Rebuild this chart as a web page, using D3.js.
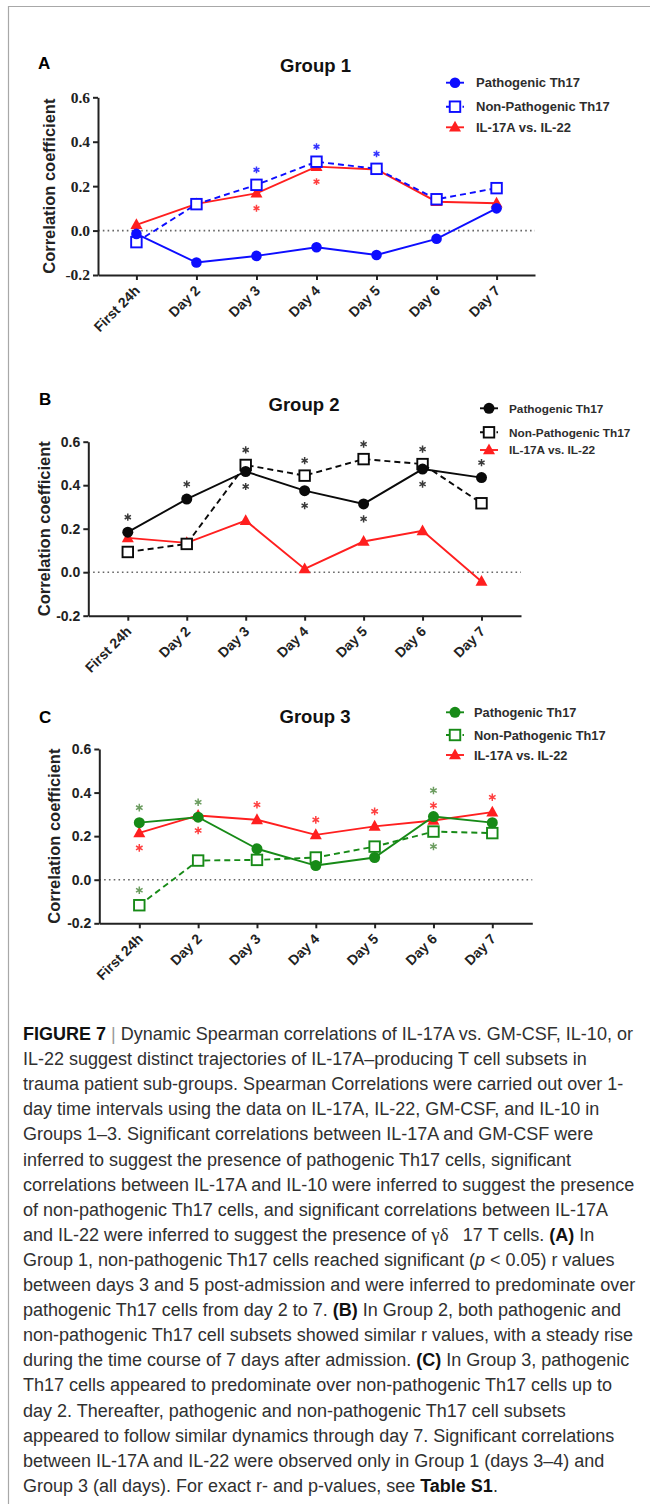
<!DOCTYPE html>
<html>
<head>
<meta charset="utf-8">
<script src="https://cdn.jsdelivr.net/npm/d3@7"></script>
<style>
  body { margin: 0; background: #fff; }
  svg { display: block; }
</style>
</head>
<body>
<svg id="fig" width="650" height="1504"></svg>
<script>
// ---- data ----------------------------------------------------------------
const days = ["First 24h", "Day 2", "Day 3", "Day 4", "Day 5", "Day 6", "Day 7"];
const yTicks = [-0.2, 0.0, 0.2, 0.4, 0.6];
const seriesLabels = ["Pathogenic Th17", "Non-Pathogenic Th17", "IL-17A vs. IL-22"];

// Group 1 Spearman r by day
const group1Pathogenic    = [-0.015, -0.144, -0.114, -0.075, -0.110, -0.037, 0.100];
const group1NonPathogenic = [-0.052,  0.119,  0.206,  0.310,  0.278,  0.141, 0.191];
const group1IL22          = [ 0.026,  0.120,  0.168,  0.288,  0.275,  0.130, 0.123];

// Group 2 Spearman r by day
const group2Pathogenic    = [0.184, 0.336, 0.463, 0.375, 0.314, 0.474, 0.435];
const group2NonPathogenic = [0.093, 0.130, 0.493, 0.444, 0.520, 0.497, 0.317];
const group2IL22          = [0.158, 0.135, 0.237, 0.015, 0.141, 0.190, -0.043];

// Group 3 Spearman r by day
const group3Pathogenic    = [ 0.262, 0.287, 0.142, 0.065, 0.102, 0.290, 0.262];
const group3NonPathogenic = [-0.117, 0.088, 0.091, 0.102, 0.152, 0.221, 0.214];
const group3IL22          = [ 0.215, 0.295, 0.275, 0.206, 0.245, 0.272, 0.310];

// significance marks (p < 0.05): series index 0 = pathogenic, 1 = non-pathogenic, 2 = IL-22
const group1Stars = [
  {day: "Day 3", series: 1, side: "above", level: 0},
  {day: "Day 3", series: 2, side: "below", level: 0},
  {day: "Day 4", series: 1, side: "above", level: 0},
  {day: "Day 4", series: 2, side: "below", level: 0},
  {day: "Day 5", series: 1, side: "above", level: 0}
];
const group2Stars = [
  {day: "First 24h", series: 0, side: "above", level: 0},
  {day: "Day 2", series: 0, side: "above", level: 0},
  {day: "Day 3", series: 1, side: "above", level: 0},
  {day: "Day 3", series: 0, side: "below", level: 0},
  {day: "Day 4", series: 1, side: "above", level: 0},
  {day: "Day 4", series: 0, side: "below", level: 0},
  {day: "Day 5", series: 1, side: "above", level: 0},
  {day: "Day 5", series: 0, side: "below", level: 0},
  {day: "Day 6", series: 1, side: "above", level: 0},
  {day: "Day 6", series: 0, side: "below", level: 0},
  {day: "Day 7", series: 0, side: "above", level: 0}
];
const group3Stars = [
  {day: "First 24h", series: 0, side: "above", level: 0},
  {day: "First 24h", series: 2, side: "below", level: 0},
  {day: "First 24h", series: 1, side: "above", level: 0},
  {day: "Day 2", series: 0, side: "above", level: 0},
  {day: "Day 2", series: 2, side: "below", level: 0},
  {day: "Day 3", series: 2, side: "above", level: 0},
  {day: "Day 4", series: 2, side: "above", level: 0},
  {day: "Day 5", series: 2, side: "above", level: 0},
  {day: "Day 6", series: 0, side: "above", level: 1},
  {day: "Day 6", series: 2, side: "above", level: 0},
  {day: "Day 6", series: 1, side: "below", level: 0},
  {day: "Day 7", series: 2, side: "above", level: 0}
];

// figure caption, one entry per printed line; segments: [text, style]
const captionLines = [
  [["FIGURE 7", "b"], [" | ", "bar"], ["Dynamic Spearman correlations of IL-17A vs. GM-CSF, IL-10, or", ""]],
  [["IL-22 suggest distinct trajectories of IL-17A\u2013producing T cell subsets in", ""]],
  [["trauma patient sub-groups. Spearman Correlations were carried out over 1-", ""]],
  [["day time intervals using the data on IL-17A, IL-22, GM-CSF, and IL-10 in", ""]],
  [["Groups 1\u20133. Significant correlations between IL-17A and GM-CSF were", ""]],
  [["inferred to suggest the presence of pathogenic Th17 cells, significant", ""]],
  [["correlations between IL-17A and IL-10 were inferred to suggest the presence", ""]],
  [["of non-pathogenic Th17 cells, and significant correlations between IL-17A", ""]],
  [["and IL-22 were inferred to suggest the presence of ", ""], ["\u03b3\u03b4", "greek"], ["\u2002 17 T cells. ", ""], ["(A)", "b"], [" In", ""]],
  [["Group 1, non-pathogenic Th17 cells reached significant (", ""], ["p", "i"], [" < 0.05) r values", ""]],
  [["between days 3 and 5 post-admission and were inferred to predominate over", ""]],
  [["pathogenic Th17 cells from day 2 to 7. ", ""], ["(B)", "b"], [" In Group 2, both pathogenic and", ""]],
  [["non-pathogenic Th17 cell subsets showed similar r values, with a steady rise", ""]],
  [["during the time course of 7 days after admission. ", ""], ["(C)", "b"], [" In Group 3, pathogenic", ""]],
  [["Th17 cells appeared to predominate over non-pathogenic Th17 cells up to", ""]],
  [["day 2. Thereafter, pathogenic and non-pathogenic Th17 cell subsets", ""]],
  [["appeared to follow similar dynamics through day 7. Significant correlations", ""]],
  [["between IL-17A and IL-22 were observed only in Group 1 (days 3\u20134) and", ""]],
  [["Group 3 (all days). For exact r- and p-values, see ", ""], ["Table S1", "b"], [".", ""]]
];

// ---- drawing -------------------------------------------------------------
const svg = d3.select("#fig");
const SANS = "'Liberation Sans', Arial, Helvetica, sans-serif";
const SERIF = "'Liberation Serif', 'Times New Roman', serif";

// page frame
svg.append("path")
  .attr("d", "M8.5,1504V6.5H650")
  .attr("fill", "none")
  .attr("stroke", "#a8a8a8")
  .attr("stroke-width", 1.2);

function starPath(r) {
  const a = r * 0.866, b = r * 0.5;
  return `M0,${-r}L0,${r}M${-a},${-b}L${a},${b}M${-a},${b}L${a},${-b}`;
}

function drawMarker(sel, shape, color, s) {
  if (shape === "circle") {
    sel.append("circle").attr("r", s.r).attr("fill", color);
  } else if (shape === "square") {
    sel.append("rect")
      .attr("x", -s.sq / 2).attr("y", -s.sq / 2)
      .attr("width", s.sq).attr("height", s.sq)
      .attr("fill", "#fff").attr("stroke", color).attr("stroke-width", 1.9);
  } else {
    const w = s.tri / 2, h = s.tri * 0.9;
    sel.append("path")
      .attr("d", `M0,${-h * 0.6}L${w},${h * 0.4}L${-w},${h * 0.4}Z`)
      .attr("fill", color);
  }
}

function drawPanel(p) {
  const g = svg.append("g");
  const x = d3.scalePoint().domain(days).range([p.x0, p.x1]).padding(p.pad);
  const y = d3.scaleLinear()
    .domain([yTicks[0], yTicks[yTicks.length - 1]])
    .range([p.yBot, p.yTop]);

  // panel letter and title
  g.append("text").attr("x", p.letterX).attr("y", p.letterY)
    .attr("font-family", SANS).attr("font-weight", "bold").attr("font-size", 17)
    .attr("fill", "#000").text(p.letter);
  g.append("text").attr("x", p.titleX).attr("y", p.titleY)
    .attr("text-anchor", "middle")
    .attr("font-family", SANS).attr("font-weight", "bold").attr("font-size", 18.5)
    .attr("fill", "#111").text(p.title);

  // zero reference line
  g.append("line")
    .attr("x1", p.x0).attr("x2", p.x1)
    .attr("y1", y(0)).attr("y2", y(0))
    .attr("stroke", "#666").attr("stroke-width", 1.6)
    .attr("stroke-dasharray", "1.6,3.2");

  // y axis
  const yAxis = g.append("g")
    .attr("transform", `translate(${p.x0},0)`)
    .call(d3.axisLeft(y).tickValues(yTicks).tickSize(5).tickSizeOuter(0).tickPadding(3)
      .tickFormat(d => d.toFixed(1)));
  yAxis.select(".domain").attr("stroke", "#222").attr("stroke-width", 2);
  yAxis.selectAll(".tick line").attr("stroke", "#222").attr("stroke-width", 2);
  yAxis.selectAll(".tick text")
    .attr("font-family", p.tickSerif ? SERIF : SANS)
    .attr("font-weight", "bold")
    .attr("font-size", p.tickSerif ? 15.5 : 14)
    .attr("fill", "#222");

  // x axis
  const xAxis = g.append("g")
    .attr("transform", `translate(0,${p.yBot})`)
    .call(d3.axisBottom(x).tickSize(5).tickSizeOuter(0));
  xAxis.select(".domain").attr("stroke", "#222").attr("stroke-width", 2);
  xAxis.selectAll(".tick line").attr("stroke", "#222").attr("stroke-width", 2);
  xAxis.selectAll(".tick text")
    .attr("font-family", SANS).attr("font-weight", "bold").attr("font-size", 14)
    .attr("fill", "#222")
    .attr("text-anchor", "end")
    .attr("y", 0).attr("dy", 0)
    .attr("transform", "translate(4,16.5) rotate(-45)");

  // y axis title
  g.append("text")
    .attr("transform", `translate(${p.yTitleX},${(p.yTop + p.yBot) / 2}) rotate(-90)`)
    .attr("text-anchor", "middle")
    .attr("font-family", SANS).attr("font-weight", "bold").attr("font-size", 16.5)
    .attr("fill", "#222").text("Correlation coefficient");

  // series lines and markers (IL-22 first, pathogenic on top)
  const shapes = ["circle", "square", "triangle"];
  const dashed = [false, true, false];
  const line = d3.line().x((d, i) => x(days[i])).y(d => y(d));
  [2, 1, 0].forEach(k => {
    const vals = p.series[k];
    g.append("path")
      .attr("d", line(vals))
      .attr("fill", "none")
      .attr("stroke", p.colors[k])
      .attr("stroke-width", 1.9)
      .attr("stroke-dasharray", dashed[k] ? "6,4" : null);
    vals.forEach((v, i) => {
      const m = g.append("g").attr("transform", `translate(${x(days[i])},${y(v)})`);
      drawMarker(m, shapes[k], p.colors[k], p.mark);
    });
  });

  // significance asterisks
  p.stars.forEach(s => {
    const v = p.series[s.series][days.indexOf(s.day)];
    const off = (15 + s.level * 11) * (s.side === "above" ? -1 : 1);
    g.append("path")
      .attr("transform", `translate(${x(s.day)},${y(v) + off})`)
      .attr("d", starPath(p.starR))
      .attr("fill", "none")
      .attr("stroke", p.starColors[s.series])
      .attr("stroke-width", 1.5);
  });

  // legend
  seriesLabels.forEach((label, k) => {
    const ly = p.legendY[k];
    g.append("line")
      .attr("x1", p.legendX - 9).attr("x2", p.legendX + 9)
      .attr("y1", ly).attr("y2", ly)
      .attr("stroke", p.colors[k]).attr("stroke-width", 1.9)
      .attr("stroke-dasharray", dashed[k] ? "3,2.5" : null);
    const m = g.append("g").attr("transform", `translate(${p.legendX},${ly})`);
    drawMarker(m, shapes[k], p.colors[k], p.mark);
    g.append("text")
      .attr("x", p.legendTextX).attr("y", ly).attr("dy", "0.36em")
      .attr("font-family", SANS).attr("font-weight", "bold")
      .attr("font-size", p.legendFont)
      .attr("fill", "#2d2d2d").text(label);
  });
}

const RED = "#ff1f1f";

drawPanel({
  letter: "A", letterX: 38, letterY: 69,
  title: "Group 1", titleX: 315.5, titleY: 71.5,
  x0: 98, x1: 535, pad: 0.64, yTop: 97.3, yBot: 275,
  yTitleX: 54.5, tickSerif: true,
  series: [group1Pathogenic, group1NonPathogenic, group1IL22],
  colors: ["#0d0dff", "#0d0dff", RED],
  starColors: ["#3535ff", "#3535ff", "#ff4040"],
  stars: group1Stars, starR: 3.4,
  mark: {r: 5.3, sq: 10.5, tri: 12},
  legendX: 455, legendTextX: 476, legendY: [82.7, 106.7, 127.3], legendFont: 13
});

drawPanel({
  letter: "B", letterX: 39, letterY: 405,
  title: "Group 2", titleX: 304, titleY: 410.5,
  x0: 88.3, x1: 521, pad: 0.67, yTop: 441.7, yBot: 615.7,
  yTitleX: 49.5, tickSerif: false,
  series: [group2Pathogenic, group2NonPathogenic, group2IL22],
  colors: ["#0a0a0a", "#0a0a0a", RED],
  starColors: ["#3a3a3a", "#3a3a3a", "#ff4040"],
  stars: group2Stars, starR: 3.6,
  mark: {r: 5.5, sq: 10.5, tri: 12},
  legendX: 489, legendTextX: 509, legendY: [408.3, 432.3, 450], legendFont: 11.8
});

drawPanel({
  letter: "C", letterX: 39, letterY: 723,
  title: "Group 3", titleX: 315, titleY: 723.3,
  x0: 99.3, x1: 532.3, pad: 0.68, yTop: 749, yBot: 923.3,
  yTitleX: 59.5, tickSerif: false,
  series: [group3Pathogenic, group3NonPathogenic, group3IL22],
  colors: ["#178a17", "#178a17", RED],
  starColors: ["#6c9d60", "#6c9d60", "#ff4040"],
  stars: group3Stars, starR: 3.8,
  mark: {r: 5.5, sq: 10.5, tri: 12},
  legendX: 455, legendTextX: 474, legendY: [712.3, 735, 755], legendFont: 12.8
});

// caption
const cap = svg.append("g");
captionLines.forEach((segs, i) => {
  const t = cap.append("text")
    .attr("x", 23).attr("y", 1040 + i * 25.1)
    .attr("font-family", SANS).attr("font-size", 18)
    .attr("fill", "#303030")
    .attr("xml:space", "preserve");
  segs.forEach(([txt, st]) => {
    const ts = t.append("tspan").text(txt);
    if (st === "b") ts.attr("font-weight", "bold").attr("fill", "#111");
    if (st === "i") ts.attr("font-style", "italic");
    if (st === "bar") ts.attr("fill", "#9a9a9a");
    if (st === "greek") ts.attr("font-family", SERIF).attr("font-size", 19);
  });
});
</script>
</body>
</html>
